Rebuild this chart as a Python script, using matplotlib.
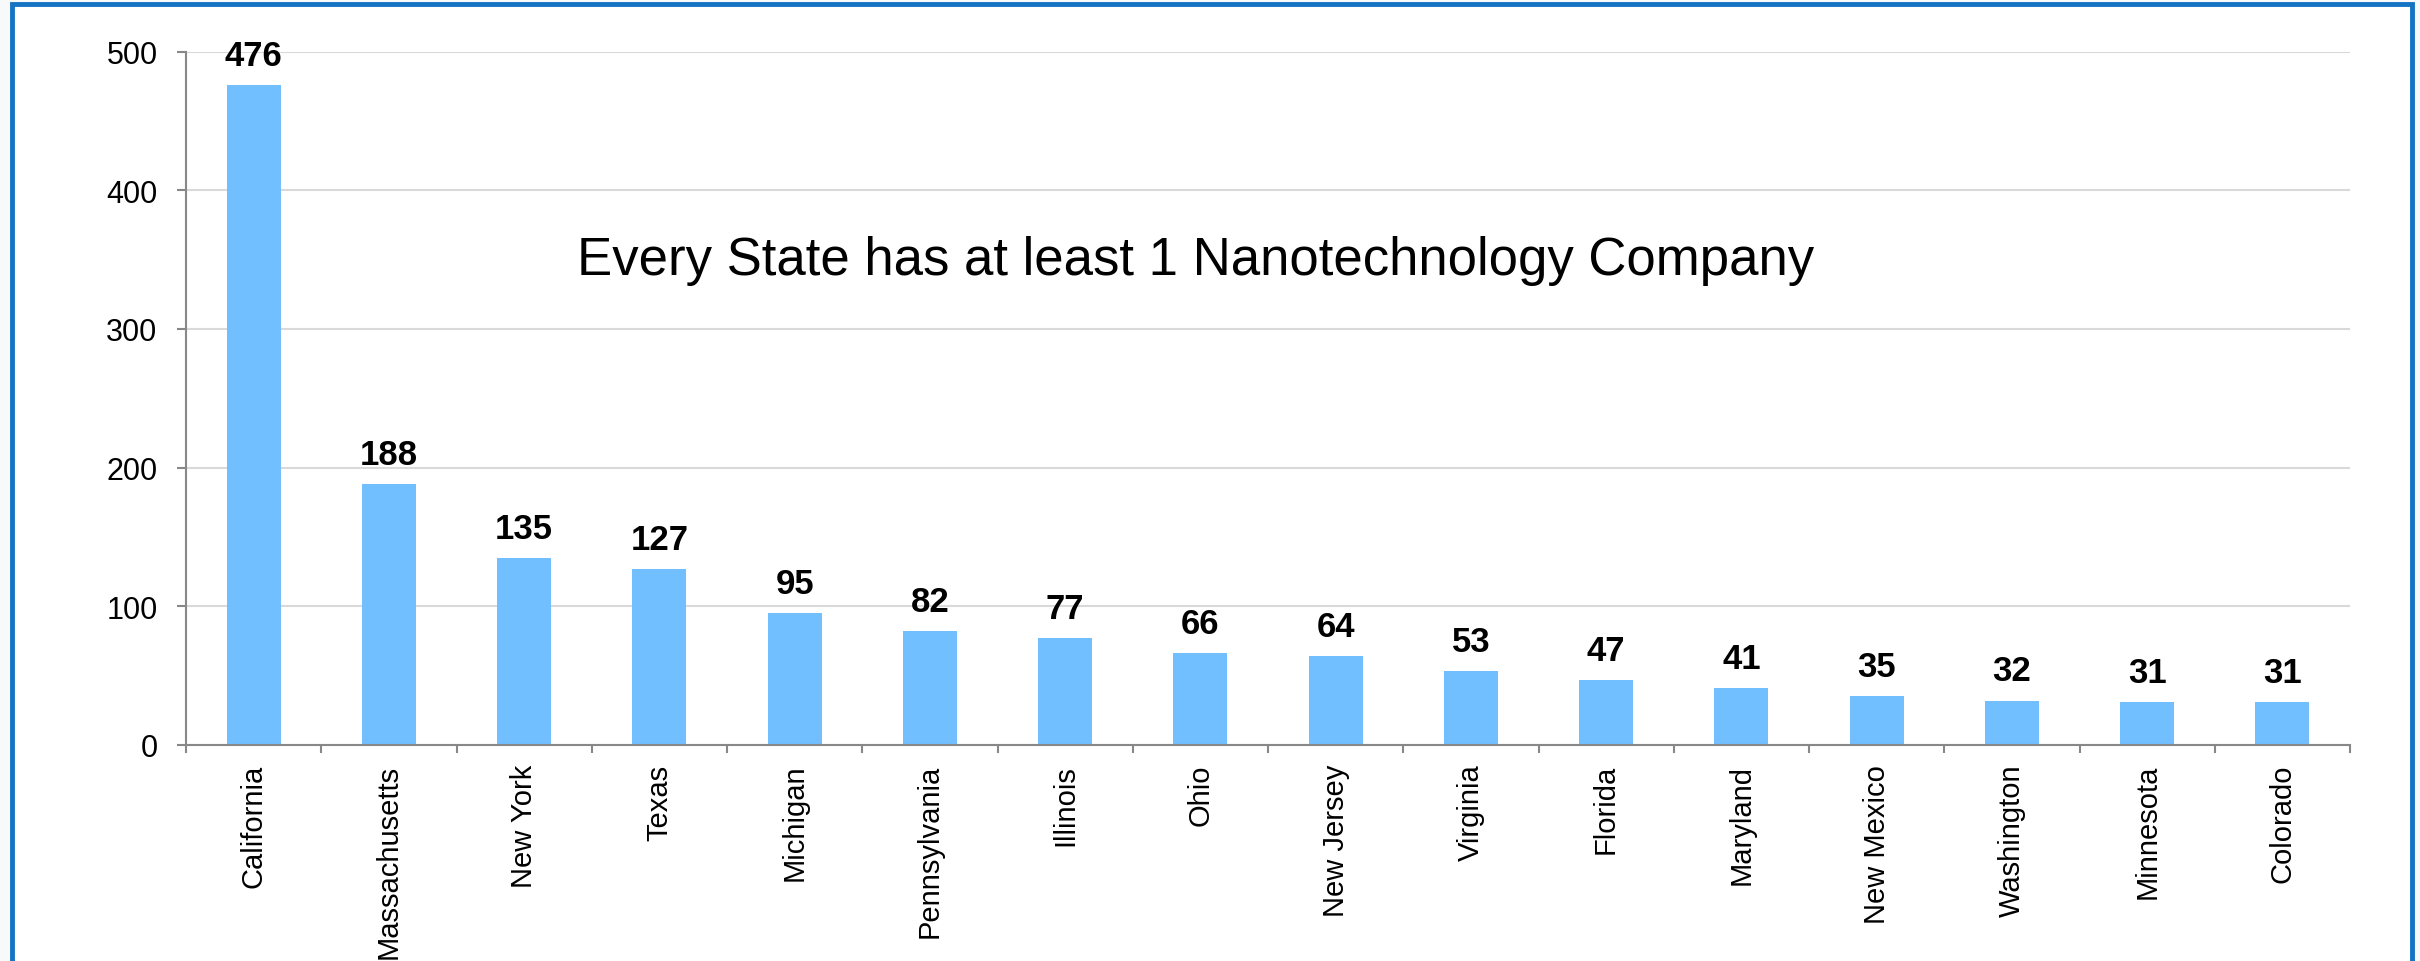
import matplotlib.pyplot as plt
from matplotlib.patches import Rectangle
import numpy as np

plt.rcParams['font.family'] = ['Liberation Sans', 'DejaVu Sans']

states = ['California', 'Massachusetts', 'New York', 'Texas', 'Michigan',
          'Pennsylvania', 'Illinois', 'Ohio', 'New Jersey', 'Virginia',
          'Florida', 'Maryland', 'New Mexico', 'Washington', 'Minnesota',
          'Colorado']
companies = [476, 188, 135, 127, 95, 82, 77, 66, 64, 53, 47, 41, 35, 32, 31, 31]
yticks = [0, 100, 200, 300, 400, 500]
title = 'Every State has at least 1 Nanotechnology Company'

fig = plt.figure(figsize=(24.2, 9.62), dpi=100)
fig.patch.set_facecolor('#f8f9fa')

# white panel with blue frame, kept behind the axes
frame = Rectangle((12 / 2420, -0.05), 2400 / 2420, 1 - 5 / 962 + 0.05,
                  transform=fig.transFigure, facecolor='white',
                  edgecolor='#1573C4', linewidth=3.5, zorder=-10)
fig.add_artist(frame)

ax = fig.add_axes([186 / 2420, 1 - 746 / 962, (2350 - 186) / 2420, (746 - 52.5) / 962])
ax.set_facecolor('none')

x = np.arange(len(states))
bars = ax.bar(x, companies, width=0.4, color='#71BFFF', zorder=2)

for xi, v in zip(x, companies):
    ax.annotate(str(v), (xi, v), xytext=(0, 9.5), textcoords='offset points',
                ha='center', va='bottom', fontsize=25, fontweight='bold')

ax.set_xlim(-0.5, len(states) - 0.5)
ax.set_ylim(0, 500)
ax.set_yticks(yticks)
ax.yaxis.grid(True, color='#d9d9d9', linewidth=1.5, zorder=0)
ax.set_axisbelow(True)

ax.set_xticks(x)
ax.set_xticklabels(states, rotation=90, fontsize=21)
ax.set_xticks(np.arange(len(states) + 1) - 0.5, minor=True)
ax.tick_params(axis='x', which='major', length=0, pad=13.5)
ax.tick_params(axis='x', which='minor', length=6, width=1.5, color='#888888')
ax.tick_params(axis='y', length=6.5, width=1.5, color='#888888', labelsize=22, pad=14)

for s in ['top', 'right']:
    ax.spines[s].set_visible(False)
for s in ['left', 'bottom']:
    ax.spines[s].set_color('#888888')
    ax.spines[s].set_linewidth(1.5)

ax.text(1196 / 2420, 1 - 275 / 962, title, transform=fig.transFigure,
        ha='center', va='baseline', fontsize=38)

fig.savefig('out.png', dpi=100, facecolor=fig.get_facecolor())
